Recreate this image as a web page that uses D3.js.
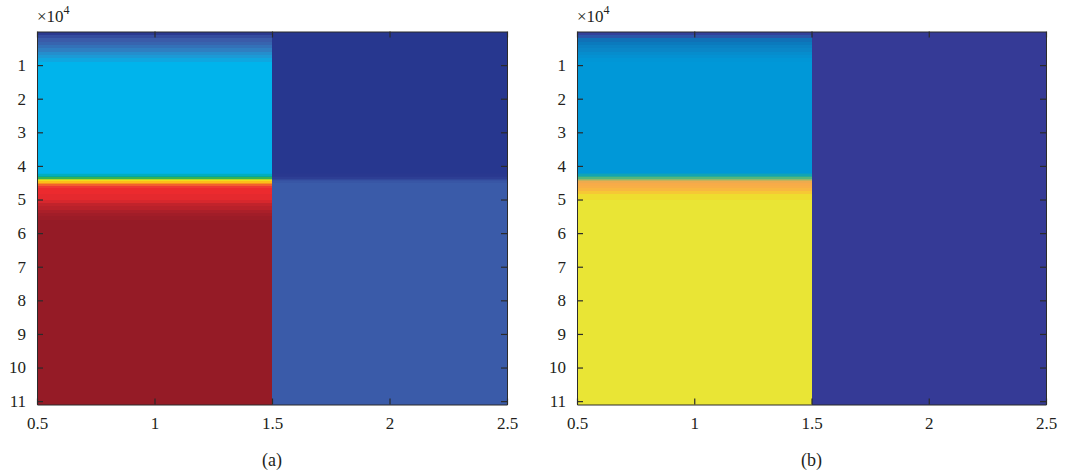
<!DOCTYPE html>
<html>
<head>
<meta charset="utf-8">
<script src="https://cdn.jsdelivr.net/npm/d3@7"></script>
<style>
  body { margin: 0; background: #fff; }
</style>
</head>
<body>
<svg id="chart" width="1070" height="474"></svg>
<script>
// depth edges of each row of cells (x10^4); the last one is the bottom of the image
const depths = [0, 0.1, 0.2, 0.3, 0.4, 0.5, 0.6, 0.7, 0.8, 0.9, 1.5, 2.5, 3.5, 4.2, 4.25, 4.3,
  4.34, 4.38, 4.42, 4.46, 4.5, 4.55, 4.6, 4.66, 4.75, 4.85, 5.0, 5.1, 5.2, 5.3, 5.4, 5.5, 5.6, 7, 9, 11.1];

const columns = [1, 2];

// panel (a), normalized values, one per row
const a1 = [0.05, 0.09, 0.12, 0.14, 0.17, 0.20, 0.24, 0.27, 0.30, 0.33, 0.33, 0.33, 0.33, 0.34, 0.37,
  0.40, 0.46, 0.53, 0.58, 0.63, 0.67, 0.72, 0.77, 0.80, 0.80, 0.81, 0.83, 0.86, 0.88, 0.91, 0.94, 0.97, 1, 1, 1];
const a2 = [0, 0, 0, 0, 0, 0, 0, 0, 0, 0, 0, 0, 0, 0.01, 0.02,
  0.04, 0.06, 0.08, 0.10, 0.11, 0.12, 0.12, 0.12, 0.12, 0.12, 0.12, 0.12, 0.12, 0.12, 0.12, 0.12, 0.12, 0.12, 0.12, 0.12];

// panel (b)
const b1 = [0.02, 0.08, 0.14, 0.17, 0.20, 0.22, 0.25, 0.27, 0.29, 0.30, 0.30, 0.30, 0.30, 0.32, 0.35,
  0.39, 0.44, 0.50, 0.55, 0.59, 0.61, 0.62, 0.64, 0.70, 0.80, 0.92, 1, 1, 1, 1, 1, 1, 1, 1, 1];
const b2 = [0, 0, 0, 0, 0, 0, 0, 0, 0, 0, 0, 0, 0, 0, 0,
  0, 0, 0, 0, 0, 0, 0, 0, 0, 0, 0, 0, 0, 0, 0, 0, 0, 0, 0, 0];

const xTicks = [0.5, 1, 1.5, 2, 2.5];
const yTicks = [1, 2, 3, 4, 5, 6, 7, 8, 9, 10, 11];

// colormaps as they come out in print
const jetStops = [0, 0.05, 0.12, 0.20, 0.27, 0.33, 0.40, 0.47, 0.55, 0.60, 0.67, 0.75, 0.80, 0.86, 0.92, 1];
const jetColors = ["#27378f", "#2b3990", "#3a5ba9", "#2f7ec1", "#1c9ad6", "#00b4ec", "#00a99d", "#3ab54a",
  "#d7df23", "#ffde17", "#f7941d", "#ef4136", "#ec2a2e", "#c1232b", "#a51e29", "#951b26"];
const parulaStops = [0, 0.08, 0.15, 0.22, 0.30, 0.38, 0.45, 0.52, 0.60, 0.75, 0.88, 1];
const parulaColors = ["#353a96", "#2b56a8", "#0c75b9", "#0a86c7", "#0098d8", "#1dab9e", "#5db878", "#a3b866",
  "#f7a94a", "#f9be3b", "#f1d92c", "#e9e535"];

const FONT = '"Liberation Serif", "DejaVu Serif", serif';
const svg = d3.select("#chart");

function drawPanel(left, right, top, bottom, cols, stops, colors, label) {
  const x = d3.scaleLinear().domain([0.5, 2.5]).range([left, right]);
  const y = d3.scaleLinear().domain([0, 11.1]).range([top, bottom]);
  const color = d3.scaleLinear().domain(stops).range(colors).interpolate(d3.interpolateRgb).clamp(true);

  const g = svg.append("g");

  cols.forEach((vals, ci) => {
    const c = columns[ci];
    g.append("g").selectAll("rect")
      .data(vals)
      .join("rect")
      .attr("x", x(c - 0.5))
      .attr("width", x(c + 0.5) - x(c - 0.5))
      .attr("y", (d, i) => y(depths[i]))
      .attr("height", (d, i) => y(depths[i + 1]) - y(depths[i]) + 0.5)
      .attr("fill", d => color(d))
      .attr("shape-rendering", "crispEdges");
  });

  // axes, ticks inside, box on
  const tickLen = 6;
  const axB = g.append("g").attr("transform", `translate(0,${bottom})`)
    .call(d3.axisBottom(x).tickValues(xTicks).tickFormat(d3.format("")).tickSizeInner(-tickLen).tickSizeOuter(0).tickPadding(12));
  const axT = g.append("g").attr("transform", `translate(0,${top})`)
    .call(d3.axisTop(x).tickValues(xTicks).tickFormat("").tickSizeInner(-tickLen).tickSizeOuter(0));
  const axL = g.append("g").attr("transform", `translate(${left},0)`)
    .call(d3.axisLeft(y).tickValues(yTicks).tickSizeInner(-tickLen).tickSizeOuter(0).tickPadding(11));
  const axR = g.append("g").attr("transform", `translate(${right},0)`)
    .call(d3.axisRight(y).tickValues(yTicks).tickFormat("").tickSizeInner(-tickLen).tickSizeOuter(0));

  [axB, axT, axL, axR].forEach(a => {
    a.select(".domain").attr("stroke", "#2b2b2b").attr("stroke-width", 1);
    a.selectAll(".tick line").attr("stroke", "#2b2b2b").attr("stroke-width", 1.2);
    a.selectAll("text")
      .style("font-family", FONT).style("font-size", "17px").attr("fill", "#231f20");
  });

  // exponent label
  const ex = g.append("text").attr("x", left).attr("y", 22)
    .style("font-family", FONT).style("font-size", "17px").attr("fill", "#231f20");
  ex.append("tspan").text("\u00d710");
  ex.append("tspan").attr("dy", -8).style("font-size", "12px").text("4");

  g.append("text")
    .attr("x", x(1.5))
    .attr("y", 466)
    .attr("text-anchor", "middle")
    .style("font-family", FONT).style("font-size", "18px").attr("fill", "#231f20")
    .text(label);
}

drawPanel(37, 507, 31.5, 404.5, [a1, a2], jetStops, jetColors, "(a)");
drawPanel(577, 1046, 31.5, 404.5, [b1, b2], parulaStops, parulaColors, "(b)");
</script>
</body>
</html>
